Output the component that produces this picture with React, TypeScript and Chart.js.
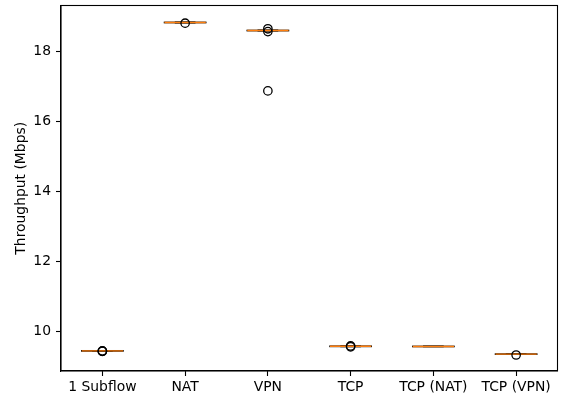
import React, { useEffect, useRef } from 'react';
import { Chart, registerables } from 'chart.js';

Chart.register(...registerables);

const categories = ['1 Subflow', 'NAT', 'VPN', 'TCP', 'TCP (NAT)', 'TCP (VPN)'];
const q1 = [9.435, 18.815, 18.585, 9.565, 9.562, 9.343];
const medians = [9.44, 18.82, 18.59, 9.57, 9.566, 9.347];
const q3 = [9.445, 18.825, 18.595, 9.575, 9.57, 9.351];
const whiskerLow = [9.432, 18.812, 18.58, 9.562, 9.56, 9.34];
const whiskerHigh = [9.448, 18.828, 18.6, 9.578, 9.572, 9.354];
const outlierCategories = ['1 Subflow', '1 Subflow', '1 Subflow', 'NAT', 'VPN', 'VPN', 'VPN', 'TCP', 'TCP', 'TCP (VPN)'];
const outlierValues = [9.425, 9.43, 9.44, 18.8, 18.56, 18.64, 16.865, 9.555, 9.58, 9.322];
const yTicks = [10, 12, 14, 16, 18];
const yMin = 8.865;
const yMax = 19.305;

const FONT = 'DejaVu Sans';

const boxPlugin = {
  id: 'boxPlugin',
  beforeDatasetsDraw(chart: any) {
    const meta = chart.getDatasetMeta(0);
    const y = chart.scales.y;
    const ctx = chart.ctx;
    ctx.save();
    meta.data.forEach((bar: any, i: number) => {
      const cx = bar.x;
      const w = bar.width;
      const left = cx - w / 2;
      const top = y.getPixelForValue(q3[i]);
      const bottom = y.getPixelForValue(q1[i]);
      ctx.strokeStyle = '#000';
      ctx.lineWidth = 1.39;
      ctx.strokeRect(left, top, w, bottom - top);
      const wl = y.getPixelForValue(whiskerLow[i]);
      const wh = y.getPixelForValue(whiskerHigh[i]);
      ctx.beginPath();
      ctx.moveTo(cx, bottom);
      ctx.lineTo(cx, wl);
      ctx.moveTo(cx, top);
      ctx.lineTo(cx, wh);
      ctx.moveTo(cx - w / 4, wl);
      ctx.lineTo(cx + w / 4, wl);
      ctx.moveTo(cx - w / 4, wh);
      ctx.lineTo(cx + w / 4, wh);
      ctx.stroke();
      const m = y.getPixelForValue(medians[i]);
      ctx.strokeStyle = '#ff7f0e';
      ctx.lineWidth = 1.39;
      ctx.beginPath();
      ctx.moveTo(left, m);
      ctx.lineTo(left + w, m);
      ctx.stroke();
    });
    ctx.restore();
  },
  afterDraw(chart: any) {
    const a = chart.chartArea;
    const ctx = chart.ctx;
    ctx.save();
    ctx.strokeStyle = '#000';
    ctx.lineWidth = 1.1;
    ctx.strokeRect(a.left, a.top, a.right - a.left, a.bottom - a.top);
    ctx.restore();
  },
};

export default function App() {
  const ref = useRef<HTMLCanvasElement>(null);
  useEffect(() => {
    if (!ref.current) return;
    const chart = new Chart(ref.current, {
      type: 'bar',
      data: {
        labels: categories,
        datasets: [
          {
            type: 'bar',
            data: categories.map((_, i) => [q1[i], q3[i]]),
            backgroundColor: 'rgba(0,0,0,0)',
            borderWidth: 0,
            barPercentage: 0.5,
            categoryPercentage: 1,
          } as any,
          {
            type: 'scatter',
            data: outlierCategories.map((c, i) => ({ x: c, y: outlierValues[i] })),
            pointStyle: 'circle',
            pointRadius: 4.2,
            borderWidth: 1.3,
            borderColor: '#000',
            backgroundColor: 'rgba(0,0,0,0)',
            showLine: false,
          } as any,
        ],
      },
      options: {
        responsive: false,
        animation: false,
        devicePixelRatio: 1,
        layout: { padding: { left: 0, top: 1, right: 5, bottom: 0 } },
        plugins: { legend: { display: false }, tooltip: { enabled: false } },
        scales: {
          x: {
            type: 'category',
            offset: true,
            grid: { display: true, drawOnChartArea: false, offset: false, tickLength: 5, tickColor: '#000', tickWidth: 1.1 },
            border: { display: true, color: '#000', width: 1.1 },
            ticks: { color: '#000', font: { family: FONT, size: 13.9 }, padding: 3, maxRotation: 0, autoSkip: false },
            afterFit: (s: any) => { s.height = 28; s.paddingLeft = 0; s.paddingRight = 0; },
          },
          y: {
            type: 'linear',
            min: yMin,
            max: yMax,
            grid: { display: true, drawOnChartArea: false, tickLength: 5, tickColor: '#000', tickWidth: 1.1 },
            border: { display: true, color: '#000', width: 1.1 },
            ticks: { color: '#000', font: { family: FONT, size: 13.9 }, padding: 5, callback: (v: any) => String(v) },
            afterBuildTicks: (s: any) => { s.ticks = yTicks.map((v) => ({ value: v })); },
            title: { display: true, text: 'Throughput (Mbps)', color: '#000', font: { family: FONT, size: 13.9 }, padding: { top: 13, bottom: 0 } },
            afterFit: (s: any) => { s.width = 61; s.paddingTop = 0; s.paddingBottom = 0; },
          },
        },
      },
      plugins: [boxPlugin],
    });
    return () => chart.destroy();
  }, []);
  return (
    <div style={{ position: 'absolute', left: 0, top: 0, width: 563, height: 399, background: '#fff' }}>
      <canvas ref={ref} width={563} height={399} />
    </div>
  );
}
